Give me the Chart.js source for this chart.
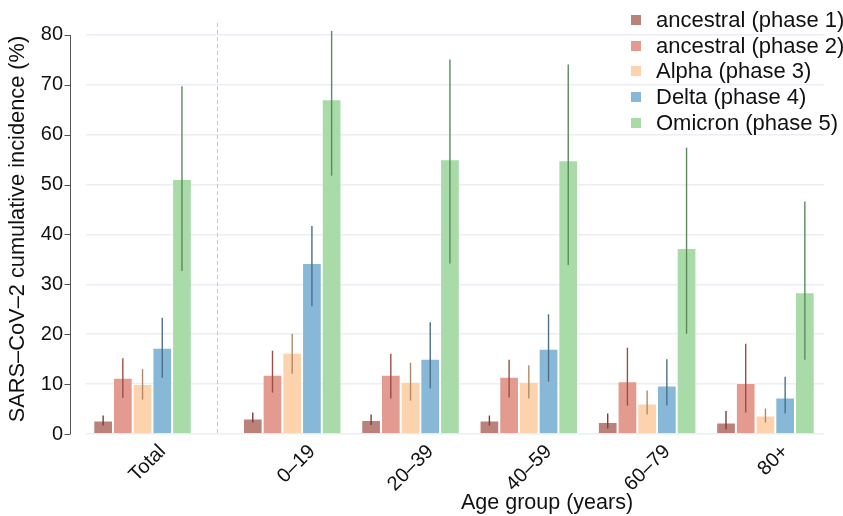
<!DOCTYPE html>
<html>
<head>
<meta charset="utf-8">
<script src="https://cdn.jsdelivr.net/npm/chart.js@4.4.0/dist/chart.umd.min.js"></script>
<style>
  body { margin: 0; background: #fff; font-family: "Liberation Sans", Arial, sans-serif; }
  #wrap { position: relative; width: 843px; height: 516px; }
  #legend { position: absolute; left: 631px; top: 7px; font-size: 22px; color: #111; }
  #legend .row { display: flex; align-items: center; height: 25.75px; white-space: nowrap; }
  #legend .box { width: 10px; height: 10px; margin-right: 15px; }
  #xtitle { position: absolute; left: 397px; width: 300px; top: 492px; line-height: 21px;
            font-size: 21.5px; text-align: center; color: #111; }
</style>
</head>
<body>
<div id="wrap">
  <canvas id="myChart" width="843" height="516"></canvas>
  <div id="legend"></div>
  <div id="xtitle">Age group (years)</div>
</div>
<script>
const groups = ["Total", "0–19", "20–39", "40–59", "60–79", "80+"];
const phaseNames = ["ancestral (phase 1)", "ancestral (phase 2)", "Alpha (phase 3)", "Delta (phase 4)", "Omicron (phase 5)"];
const yTicks = [0, 10, 20, 30, 40, 50, 60, 70, 80];

const anc1 = [2.7, 3.1, 2.8, 2.7, 2.4, 2.3];
const anc1Lo = [1.7, 2.3, 1.8, 1.7, 1.1, 0.9];
const anc1Hi = [3.7, 4.3, 3.9, 3.7, 4.1, 4.6];

const anc2 = [11.3, 11.9, 11.9, 11.5, 10.6, 10.2];
const anc2Lo = [7.2, 8.3, 7.1, 7.3, 5.7, 4.3];
const anc2Hi = [15.2, 16.7, 16.1, 14.9, 17.3, 18.1];

const alpha = [10.0, 16.3, 10.5, 10.5, 6.1, 3.7];
const alphaLo = [6.9, 12.1, 6.7, 7.1, 3.9, 2.3];
const alphaHi = [13.0, 20.1, 14.3, 13.8, 8.7, 5.1];

const delta = [17.3, 34.3, 15.1, 17.1, 9.7, 7.3];
const deltaLo = [11.3, 25.6, 9.1, 10.5, 5.7, 4.1];
const deltaHi = [23.3, 41.7, 22.4, 24.0, 15.0, 11.5];

const omicron = [51.1, 67.1, 55.1, 54.9, 37.3, 28.4];
const omicronLo = [32.7, 51.8, 34.2, 33.9, 20.1, 14.9];
const omicronHi = [69.7, 80.8, 75.1, 74.1, 57.4, 46.6];

// "Total" sits a bit apart from the age groups
const GAP = 0.265;
const xOf = i => i === 0 ? 0 : i + GAP;

const fills = ['#bb827c', '#e39b90', '#fdd3ad', '#88b8d8', '#a8dba8'];
const whiskers = ['#7a3d38', '#9a4e48', '#b08a68', '#4d6f88', '#5d8a5d'];
const values = [anc1, anc2, alpha, delta, omicron];
const lows = [anc1Lo, anc2Lo, alphaLo, deltaLo, omicronLo];
const highs = [anc1Hi, anc2Hi, alphaHi, deltaHi, omicronHi];

const datasets = values.map((vals, k) => ({
    label: phaseNames[k],
    data: vals.map((v, i) => ({ x: xOf(i), y: v })),
    backgroundColor: fills[k],
    borderColor: 'rgba(255,255,255,0.35)',
    borderWidth: 1,
    categoryPercentage: 0.833,
    barPercentage: 1
}));

// legend as html
document.getElementById('legend').innerHTML = phaseNames.map((n, k) =>
    `<div class="row"><span class="box" style="background:${fills[k]}"></span>${n}</div>`).join('');

const extras = {
    id: 'extras',
    beforeDatasetsDraw(chart) {
        const { ctx, chartArea, scales: { x, y } } = chart;
        ctx.save();
        // dashed separator between Total and the age groups
        const sx = Math.round(x.getPixelForValue((xOf(0) + xOf(1)) / 2)) + 0.5;
        ctx.strokeStyle = '#c9c9c9';
        ctx.lineWidth = 1;
        ctx.setLineDash([4, 3]);
        ctx.beginPath();
        ctx.moveTo(sx, chartArea.top - 1);
        ctx.lineTo(sx, chartArea.bottom);
        ctx.stroke();
        ctx.setLineDash([]);
        // detached y axis line with outward ticks
        const ax = chartArea.left - 15.5;
        ctx.strokeStyle = '#555';
        ctx.beginPath();
        ctx.moveTo(ax, y.getPixelForValue(0));
        ctx.lineTo(ax, y.getPixelForValue(80));
        yTicks.forEach(t => {
            const py = Math.round(y.getPixelForValue(t)) + 0.5;
            ctx.moveTo(ax, py);
            ctx.lineTo(ax - 6, py);
        });
        ctx.stroke();
        ctx.restore();
    },
    afterDatasetsDraw(chart) {
        const { ctx, scales: { y } } = chart;
        ctx.save();
        ctx.lineWidth = 1.4;
        values.forEach((vals, k) => {
            const meta = chart.getDatasetMeta(k);
            ctx.strokeStyle = whiskers[k];
            meta.data.forEach((bar, i) => {
                ctx.beginPath();
                ctx.moveTo(bar.x, y.getPixelForValue(lows[k][i]));
                ctx.lineTo(bar.x, y.getPixelForValue(highs[k][i]));
                ctx.stroke();
            });
        });
        ctx.restore();
    }
};

const ctx = document.getElementById('myChart').getContext('2d');
const myChart = new Chart(ctx, {
    type: 'bar',
    data: { datasets: datasets },
    plugins: [extras],
    options: {
        responsive: false,
        animation: false,
        layout: { padding: { top: 24, right: 19, left: 0, bottom: 0 } },
        plugins: {
            legend: { display: false },
            tooltip: { enabled: false }
        },
        scales: {
            x: {
                type: 'linear',
                offset: false,
                min: -0.478,
                max: 5.76,
                afterBuildTicks: s => { s.ticks = groups.map((g, i) => ({ value: xOf(i) })); },
                afterFit: s => { s.height = 82; },
                grid: { display: false },
                border: { display: false },
                ticks: {
                    autoSkip: false,
                    minRotation: 45,
                    maxRotation: 45,
                    padding: -2,
                    labelOffset: 20,
                    color: '#111',
                    font: { family: '"Liberation Sans", Arial, sans-serif', size: 20 },
                    callback: (v, i) => groups[i]
                }
            },
            y: {
                min: 0,
                max: 82.2,
                afterBuildTicks: s => { s.ticks = yTicks.map(v => ({ value: v })); },
                afterFit: s => { s.width = 86; },
                // invisible tick marks keep the labels away from the plot
                grid: { color: '#e9eff5', lineWidth: 1.5, drawTicks: true, tickLength: 23, tickColor: 'rgba(0,0,0,0)' },
                border: { display: false },
                ticks: {
                    padding: 0,
                    color: '#111',
                    font: { family: '"Liberation Sans", Arial, sans-serif', size: 20 }
                },
                title: {
                    display: true,
                    text: 'SARS–CoV–2 cumulative incidence (%)',
                    color: '#111',
                    padding: { top: 5, bottom: 0 },
                    font: { family: '"Liberation Sans", Arial, sans-serif', size: 21.8 }
                }
            }
        }
    }
});
</script>
</body>
</html>
